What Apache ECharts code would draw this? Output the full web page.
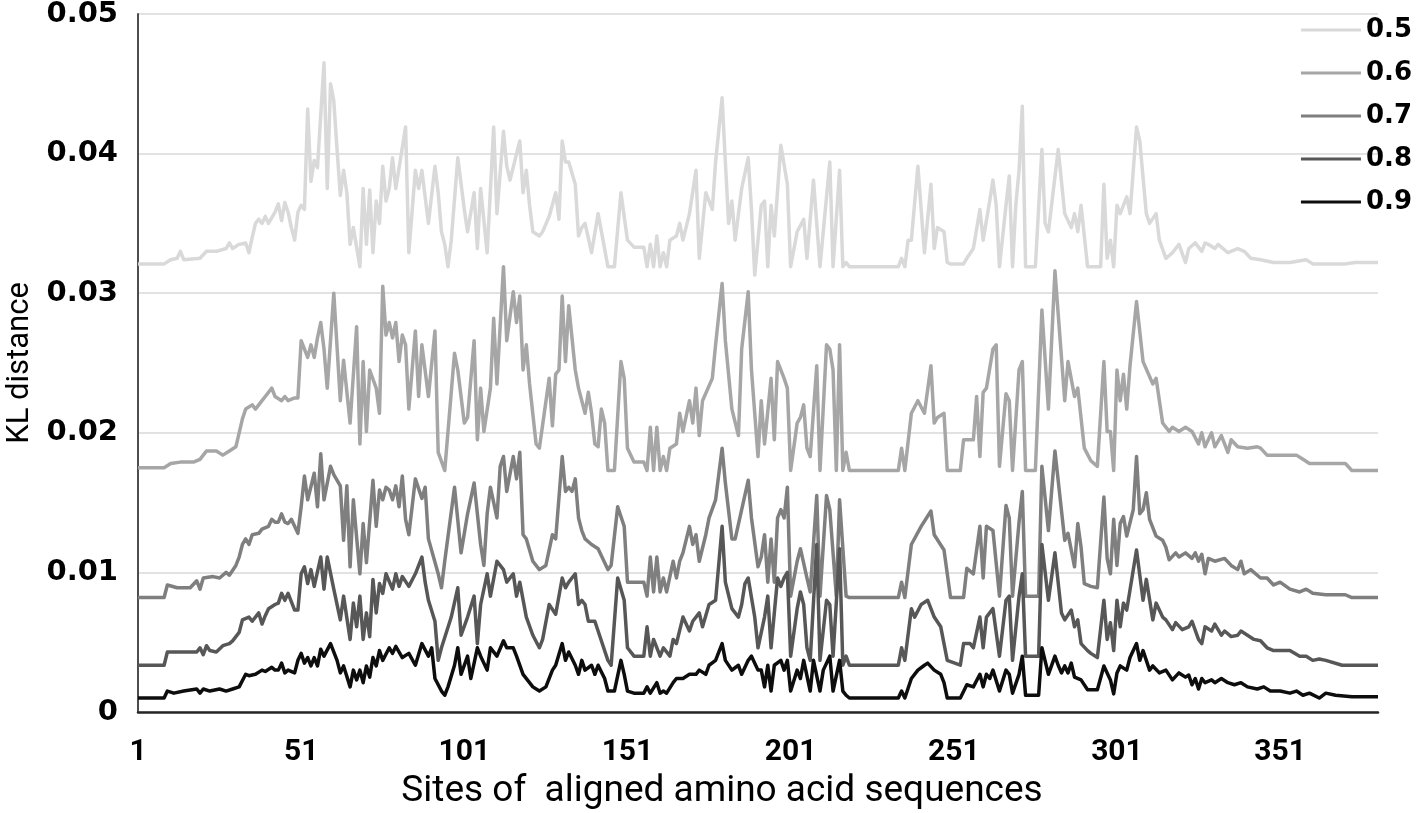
<!DOCTYPE html>
<html><head><meta charset="utf-8">
<script src="https://cdn.jsdelivr.net/npm/echarts@6/dist/echarts.min.js"></script>
<style>html,body{margin:0;padding:0;background:#fff}#c{width:1416px;height:813px}</style>
</head><body><div id="c"></div>
<script>
// [site, KL distance] vertices
const seriesNames = ['0.5', '0.6', '0.7', '0.8', '0.9'];
const s05 = [[1,.0321],[9,.0321],[11,.0324],[13,.0325],[14,.0330],[15,.0324],[20,.0325],[22,.0330],[25,.0330],[28,.0332],[29,.0336],[30,.0332],[32,.0335],[34,.0336],[35,.0329],[36,.0340],[37,.0350],[38,.0353],[39,.0350],[40,.0355],[41,.0350],[43,.0358],[44,.0364],[45,.0352],[46,.0365],[47,.0358],[48,.0347],[49,.0338],[50,.0358],[51,.0363],[52,.0360],[53,.0432],[54,.0380],[55,.0395],[56,.0390],[58,.0465],[59,.0375],[60,.0450],[61,.0438],[62,.0403],[63,.0370],[64,.0388],[65,.0372],[66,.0335],[67,.0347],[69,.0319],[70,.0375],[71,.0335],[72,.0374],[73,.0329],[74,.0366],[75,.0350],[76,.0391],[77,.0366],[78,.0375],[79,.0397],[80,.0375],[83,.0419],[84,.0329],[86,.0388],[87,.0375],[88,.0388],[90,.0350],[92,.0391],[93,.0372],[94,.0344],[95,.0335],[96,.0319],[97,.0338],[99,.0397],[101,.0360],[102,.0344],[104,.0372],[105,.0332],[106,.0375],[108,.0329],[110,.0419],[111,.0357],[113,.0416],[114,.0391],[115,.0381],[118,.0409],[119,.0372],[120,.0388],[121,.0363],[122,.0344],[124,.0341],[125,.0344],[127,.0355],[129,.0372],[130,.0353],[131,.0409],[132,.0394],[133,.0394],[135,.0378],[136,.0341],[137,.0347],[138,.0350],[140,.0329],[142,.0357],[145,.0319],[147,.0319],[149,.0372],[151,.0338],[153,.0333],[156,.0333],[157,.0319],[158,.0335],[159,.0319],[160,.0341],[161,.0319],[162,.0329],[163,.0319],[164,.0338],[166,.0341],[167,.0350],[168,.0338],[170,.0357],[172,.0388],[173,.0325],[175,.0372],[177,.0360],[178,.0394],[180,.0440],[181,.0394],[182,.0350],[183,.0366],[184,.0338],[186,.0375],[188,.0397],[189,.0360],[190,.0313],[192,.0363],[193,.0366],[194,.0319],[195,.0363],[196,.0341],[198,.0406],[200,.0378],[201,.0319],[203,.0344],[205,.0353],[206,.0325],[208,.0381],[210,.0319],[213,.0394],[214,.0319],[216,.0388],[217,.0319],[218,.0322],[219,.0319],[234,.0319],[235,.0325],[236,.0319],[237,.0338],[238,.0338],[240,.0391],[242,.0329],[244,.0378],[245,.0332],[246,.0347],[248,.0344],[249,.0322],[250,.0321],[254,.0321],[255,.0325],[257,.0332],[259,.0360],[260,.0338],[262,.0366],[263,.0381],[264,.0363],[265,.0319],[267,.0363],[268,.0384],[269,.0319],[270,.0363],[271,.0388],[272,.0434],[273,.0319],[276,.0319],[278,.0403],[279,.0350],[280,.0344],[283,.0403],[285,.0357],[287,.0347],[288,.0357],[289,.0344],[290,.0363],[292,.0319],[296,.0319],[297,.0378],[298,.0325],[299,.0338],[300,.0319],[301,.0363],[302,.0357],[304,.0369],[305,.0357],[307,.0419],[308,.0409],[310,.0357],[311,.0350],[313,.0357],[314,.0338],[316,.0325],[318,.0329],[320,.0335],[322,.0322],[323,.0332],[325,.0336],[327,.0330],[328,.0336],[329,.0335],[331,.0332],[332,.0335],[335,.0329],[338,.0332],[340,.0330],[342,.0325],[345,.0324],[349,.0322],[354,.0322],[359,.0324],[361,.0321],[371,.0321],[374,.0322],[381,.0322]];
const s06 = [[1,.0175],[9,.0175],[11,.0178],[14,.0179],[18,.0179],[20,.0181],[22,.0187],[25,.0187],[27,.0184],[29,.0187],[31,.0190],[32,.0200],[33,.0210],[34,.0217],[36,.0220],[37,.0217],[39,.0223],[40,.0226],[42,.0232],[43,.0226],[45,.0223],[46,.0226],[47,.0223],[49,.0225],[50,.0225],[51,.0266],[53,.0254],[54,.0263],[55,.0254],[56,.0268],[57,.0279],[58,.0260],[59,.0232],[61,.0300],[63,.0223],[64,.0252],[66,.0207],[68,.0276],[69,.0192],[70,.0251],[71,.0201],[72,.0245],[74,.0232],[75,.0214],[76,.0305],[77,.0270],[78,.0279],[79,.0268],[80,.0279],[81,.0251],[82,.0270],[83,.0263],[84,.0217],[86,.0273],[87,.0226],[88,.0263],[90,.0226],[92,.0273],[93,.0186],[95,.0173],[96,.0201],[98,.0257],[99,.0245],[101,.0207],[102,.0211],[104,.0266],[105,.0195],[106,.0232],[107,.0201],[109,.0232],[110,.0282],[111,.0235],[113,.0319],[114,.0266],[116,.0301],[117,.0279],[118,.0298],[119,.0245],[120,.0263],[121,.0235],[123,.0192],[124,.0189],[127,.0239],[128,.0205],[129,.0242],[130,.0245],[131,.0298],[132,.0251],[133,.0291],[135,.0245],[136,.0232],[137,.0223],[138,.0214],[139,.0229],[140,.0214],[141,.0192],[142,.0190],[143,.0217],[144,.0207],[145,.0173],[147,.0173],[149,.0251],[150,.0239],[151,.0189],[153,.0179],[156,.0179],[157,.0173],[158,.0204],[159,.0173],[160,.0204],[161,.0173],[162,.0183],[163,.0173],[164,.0189],[166,.0192],[167,.0214],[168,.0201],[170,.0223],[171,.0207],[172,.0232],[173,.0198],[174,.0223],[177,.0239],[178,.0263],[180,.0307],[181,.0266],[183,.0217],[185,.0198],[186,.0260],[188,.0301],[189,.0245],[191,.0183],[192,.0223],[193,.0192],[195,.0239],[196,.0195],[197,.0251],[198,.0245],[199,.0239],[200,.0232],[201,.0173],[203,.0207],[204,.0211],[205,.0220],[206,.0189],[207,.0183],[209,.0248],[210,.0173],[212,.0263],[213,.0260],[214,.0245],[215,.0173],[216,.0263],[217,.0173],[218,.0186],[219,.0173],[234,.0173],[235,.0189],[236,.0173],[238,.0214],[240,.0223],[242,.0214],[244,.0248],[245,.0207],[246,.0211],[248,.0214],[249,.0173],[253,.0173],[254,.0195],[257,.0195],[258,.0226],[259,.0183],[260,.0229],[261,.0232],[263,.0260],[264,.0263],[265,.0176],[267,.0228],[268,.0223],[269,.0173],[271,.0245],[272,.0251],[273,.0173],[276,.0173],[278,.0288],[280,.0217],[282,.0316],[285,.0223],[286,.0251],[288,.0226],[289,.0232],[291,.0189],[293,.0180],[295,.0176],[297,.0251],[298,.0201],[299,.0201],[300,.0173],[301,.0245],[302,.0223],[303,.0242],[304,.0217],[305,.0248],[307,.0294],[309,.0251],[312,.0235],[313,.0239],[315,.0207],[317,.0201],[318,.0204],[320,.0201],[322,.0204],[324,.0201],[326,.0192],[327,.0200],[328,.0190],[330,.0200],[331,.0190],[333,.0198],[335,.0186],[336,.0195],[338,.0190],[341,.0189],[344,.0190],[345,.0189],[347,.0184],[356,.0184],[358,.0181],[360,.0178],[371,.0178],[373,.0173],[381,.0173]];
const s07 = [[1,.0082],[9,.0082],[10,.0091],[13,.0089],[17,.0089],[19,.0094],[20,.0088],[21,.0096],[24,.0097],[26,.0096],[28,.0100],[29,.0098],[31,.0105],[32,.0111],[33,.0120],[34,.0124],[35,.0120],[36,.0127],[38,.0128],[39,.0131],[41,.0133],[42,.0138],[43,.0136],[44,.0136],[45,.0142],[46,.0136],[47,.0135],[48,.0138],[50,.0128],[51,.0147],[52,.0169],[53,.0152],[55,.0171],[56,.0147],[57,.0185],[58,.0152],[60,.0176],[61,.0170],[63,.0162],[64,.0123],[65,.0162],[66,.0104],[67,.0152],[68,.0125],[69,.0099],[70,.0135],[71,.0107],[73,.0166],[74,.0133],[75,.0159],[76,.0152],[77,.0161],[78,.0159],[79,.0152],[80,.0162],[81,.0147],[82,.0169],[83,.0138],[84,.0127],[86,.0167],[88,.0153],[89,.0161],[90,.0124],[93,.0099],[94,.0089],[95,.0108],[98,.0161],[100,.0114],[102,.0142],[104,.0164],[106,.0120],[107,.0105],[108,.0142],[109,.0161],[111,.0139],[112,.0176],[113,.0183],[114,.0158],[116,.0183],[117,.0167],[118,.0186],[119,.0127],[120,.0124],[122,.0108],[124,.0102],[126,.0105],[128,.0127],[129,.0124],[131,.0183],[132,.0158],[133,.0161],[134,.0158],[135,.0167],[136,.0139],[137,.0130],[138,.0124],[140,.0120],[142,.0117],[145,.0102],[146,.0105],[148,.0147],[150,.0133],[151,.0093],[156,.0093],[157,.0083],[158,.0111],[159,.0086],[160,.0111],[161,.0086],[162,.0096],[163,.0086],[165,.0108],[166,.0096],[167,.0108],[168,.0114],[170,.0133],[171,.0120],[172,.0127],[173,.0108],[175,.0127],[176,.0139],[178,.0152],[180,.0189],[181,.0164],[183,.0124],[184,.0124],[186,.0145],[188,.0166],[189,.0139],[191,.0104],[192,.0111],[193,.0127],[194,.0093],[195,.0124],[196,.0093],[197,.0139],[198,.0145],[199,.0139],[200,.0161],[201,.0083],[203,.0108],[204,.0117],[206,.0096],[207,.0086],[209,.0155],[210,.0083],[212,.0155],[213,.0145],[215,.0083],[216,.0152],[218,.0083],[219,.0082],[234,.0082],[235,.0093],[236,.0082],[238,.0120],[241,.0133],[244,.0144],[245,.0127],[248,.0116],[250,.0082],[254,.0082],[255,.0103],[257,.0099],[259,.0133],[260,.0096],[261,.0133],[263,.0130],[265,.0083],[267,.0148],[268,.0139],[269,.0083],[271,.0136],[272,.0158],[273,.0083],[277,.0083],[278,.0176],[280,.0130],[282,.0187],[285,.0123],[286,.0128],[287,.0116],[288,.0104],[289,.0135],[290,.0118],[291,.0092],[293,.0090],[295,.0089],[297,.0154],[298,.0110],[299,.0099],[300,.0138],[301,.0105],[302,.0135],[303,.0140],[304,.0126],[306,.0145],[307,.0183],[308,.0142],[309,.0145],[310,.0157],[311,.0138],[313,.0126],[315,.0123],[316,.0118],[317,.0109],[319,.0114],[320,.0111],[322,.0114],[324,.0110],[325,.0114],[326,.0108],[327,.0113],[328,.0099],[329,.0110],[331,.0108],[334,.0110],[336,.0105],[338,.0102],[339,.0108],[340,.0099],[342,.0102],[345,.0096],[347,.0096],[349,.0091],[351,.0093],[354,.0088],[357,.0086],[359,.0088],[361,.0085],[365,.0084],[371,.0084],[373,.0082],[381,.0082]];
const s08 = [[1,.00335],[9,.00335],[10,.0043],[19,.0043],[20,.0046],[21,.0041],[22,.00475],[23,.0044],[25,.0043],[27,.00475],[29,.0049],[30,.0051],[31,.0054],[32,.0057],[33,.0066],[35,.0068],[36,.0065],[38,.0071],[39,.0063],[40,.0069],[41,.0074],[43,.0077],[44,.0078],[45,.0085],[46,.0080],[47,.0085],[49,.0073],[50,.0073],[51,.0099],[52,.0104],[53,.0092],[54,.0102],[55,.0090],[57,.0111],[58,.0088],[59,.0111],[61,.0088],[63,.0066],[64,.0083],[66,.0052],[67,.0078],[68,.0061],[69,.0083],[70,.0052],[71,.0071],[72,.0054],[73,.0095],[74,.0071],[75,.0092],[76,.0085],[77,.0099],[79,.0088],[80,.0099],[81,.0090],[82,.0097],[84,.0090],[86,.0099],[88,.0111],[89,.0093],[90,.0080],[92,.0065],[93,.0037],[94,.0046],[97,.0068],[99,.0089],[100,.0055],[102,.0068],[104,.0083],[105,.0049],[106,.0077],[108,.0099],[109,.0083],[111,.0108],[113,.0102],[114,.0093],[116,.0099],[117,.0083],[118,.0093],[120,.0068],[122,.0055],[124,.0046],[125,.0052],[127,.0077],[129,.0070],[131,.0096],[132,.0089],[133,.0093],[135,.0099],[136,.0077],[137,.0080],[138,.0077],[139,.0065],[141,.0065],[142,.0058],[145,.0037],[146,.00335],[148,.0096],[150,.0080],[151,.0046],[153,.0040],[156,.0040],[157,.0061],[158,.0040],[159,.0052],[161,.0040],[162,.0046],[164,.0040],[165,.0052],[166,.0049],[168,.0068],[170,.0058],[171,.0065],[173,.0071],[174,.0061],[176,.0077],[178,.0080],[180,.0133],[181,.0093],[183,.0074],[185,.0068],[186,.0077],[187,.0092],[188,.0096],[190,.0068],[191,.0046],[193,.0068],[194,.0083],[195,.0046],[197,.0096],[198,.0090],[199,.0096],[200,.0100],[201,.0040],[203,.0074],[204,.0086],[205,.0077],[206,.0046],[207,.0037],[209,.0120],[210,.0037],[212,.0080],[213,.0077],[214,.0040],[216,.0117],[217,.00335],[218,.0040],[219,.00335],[234,.00335],[235,.0046],[236,.0037],[238,.0074],[239,.0068],[241,.0077],[243,.0080],[244,.0074],[245,.0068],[247,.0061],[249,.0037],[253,.00335],[254,.0049],[256,.0049],[257,.0046],[259,.0068],[260,.0046],[261,.0068],[262,.0071],[263,.0074],[265,.0040],[267,.0080],[268,.0083],[269,.0037],[271,.0083],[272,.0099],[273,.0040],[277,.0040],[278,.0120],[280,.0080],[282,.0114],[284,.0071],[285,.0066],[287,.0073],[288,.0061],[289,.0066],[290,.0049],[292,.0044],[293,.0042],[295,.0039],[297,.0080],[298,.0052],[299,.0064],[300,.0044],[301,.0080],[302,.0061],[303,.0078],[304,.0073],[307,.0116],[309,.0080],[310,.0095],[312,.0066],[313,.0078],[315,.0068],[316,.0066],[318,.0059],[319,.0064],[321,.0059],[323,.0061],[324,.0065],[326,.0052],[327,.0049],[328,.0061],[330,.0058],[331,.0063],[333,.0055],[334,.0058],[336,.0054],[338,.0055],[339,.0058],[341,.0055],[343,.0052],[345,.0051],[347,.0046],[349,.0044],[354,.0044],[357,.0040],[359,.0040],[361,.0037],[363,.0038],[365,.0037],[370,.00335],[381,.00335]];
const s09 = [[1,.0010],[9,.0010],[10,.0015],[12,.00135],[15,.0015],[19,.00165],[20,.00135],[21,.00165],[23,.0015],[26,.00165],[28,.0015],[30,.00165],[32,.0018],[34,.0027],[35,.0026],[37,.0027],[39,.0030],[40,.0029],[42,.0032],[43,.0030],[44,.0030],[45,.0035],[46,.0028],[47,.0030],[49,.0028],[50,.0037],[51,.0042],[52,.0035],[53,.0039],[54,.0033],[55,.0039],[56,.0033],[57,.0045],[58,.0040],[60,.0049],[62,.0037],[63,.0028],[64,.0033],[66,.0018],[67,.0030],[68,.0023],[69,.0030],[70,.0021],[71,.0033],[72,.0025],[73,.0039],[74,.0033],[75,.0044],[76,.0037],[78,.0046],[79,.0042],[80,.0047],[82,.0039],[84,.0042],[86,.00335],[88,.0049],[90,.0040],[91,.0046],[92,.0024],[94,.0015],[95,.0012],[96,.0018],[98,.00335],[99,.0046],[100,.0027],[102,.0040],[103,.0024],[105,.0046],[106,.0040],[108,.0030],[109,.0046],[111,.0040],[113,.0051],[114,.0046],[116,.0046],[117,.0040],[119,.0027],[122,.0018],[124,.0015],[126,.0018],[128,.0030],[129,.00335],[131,.0049],[132,.0037],[133,.0043],[135,.00335],[136,.0027],[137,.0037],[138,.0030],[140,.00335],[141,.0027],[142,.00335],[144,.0024],[145,.0015],[147,.0015],[149,.0037],[150,.0027],[151,.0015],[153,.00135],[156,.00135],[157,.0018],[158,.00135],[160,.0021],[161,.00135],[162,.0015],[163,.00135],[165,.0021],[166,.0024],[168,.0024],[170,.0027],[172,.0027],[173,.0030],[175,.0027],[176,.00335],[178,.0037],[180,.0049],[181,.0037],[183,.0030],[185,.00335],[186,.0027],[188,.0037],[189,.0040],[191,.0030],[192,.0030],[193,.0018],[194,.00335],[195,.0015],[196,.00335],[198,.0037],[199,.0030],[200,.0037],[201,.0015],[203,.0030],[204,.0024],[205,.0037],[207,.0015],[208,.0037],[210,.0015],[211,.0030],[213,.0040],[214,.0015],[216,.0037],[217,.0015],[218,.0012],[219,.0010],[234,.0010],[235,.0015],[236,.0010],[238,.0024],[240,.0030],[242,.00335],[243,.0035],[245,.0030],[247,.0027],[248,.0021],[249,.0010],[253,.0010],[255,.00195],[257,.0018],[259,.0027],[260,.0018],[261,.0027],[262,.0024],[263,.0030],[265,.0015],[267,.0030],[268,.0027],[269,.00135],[271,.0027],[272,.0040],[273,.0012],[277,.0012],[278,.0046],[280,.0027],[282,.0040],[283,.00335],[284,.0028],[285,.0033],[286,.0028],[287,.0035],[288,.0025],[290,.0023],[292,.0016],[295,.0016],[297,.0033],[298,.0028],[299,.0023],[300,.0013],[301,.0028],[302,.0033],[304,.0030],[305,.0039],[307,.0049],[308,.0037],[309,.0044],[311,.0030],[312,.0033],[314,.0028],[316,.0030],[318,.0023],[320,.0028],[322,.0025],[323,.00265],[324,.00195],[325,.0024],[326,.00165],[327,.0024],[328,.0021],[330,.0023],[331,.0021],[333,.0024],[335,.0021],[337,.00195],[339,.0021],[341,.0018],[344,.00165],[346,.0018],[348,.0015],[351,.0015],[354,.00135],[356,.0015],[358,.0012],[360,.00135],[363,.0010],[365,.00135],[368,.0012],[373,.0011],[381,.0011]];
const seriesData = [s05, s06, s07, s08, s09];
const lineColors = ['#d9d9d9', '#a6a6a6', '#7f7f7f', '#575757', '#0d0d0d'];

const chart = echarts.init(document.getElementById('c'), null, { renderer: 'canvas' });
const narrow = 'Roboto, "DejaVu Sans Condensed", sans-serif';
const wide = '"DejaVu Sans", Verdana, sans-serif';
chart.setOption({
  animation: false,
  backgroundColor: '#ffffff',
  grid: { left: 138, right: 38, top: 14, bottom: 101, containLabel: false, outerBoundsMode: 'none' },
  legend: {
    orient: 'vertical', right: 4, top: 17, padding: 0,
    icon: 'rect', itemWidth: 60, itemHeight: 3, itemGap: 17,
    textStyle: { fontFamily: wide, fontWeight: 'bold', fontSize: 26, color: '#000' },
    data: seriesNames
  },
  xAxis: {
    type: 'value', min: 1, max: 381, interval: 50,
    name: 'Sites of  aligned amino acid sequences',
    nameLocation: 'middle', nameGap: 61,
    nameTextStyle: { fontFamily: narrow, fontSize: 37, color: '#000', padding: [0, 72, 0, 0] },
    axisLine: { show: true, onZero: false, lineStyle: { color: '#262626', width: 2.5 } },
    axisTick: { show: false },
    splitLine: { show: false },
    axisLabel: { showMaxLabel: false, margin: 25, fontFamily: narrow, fontWeight: 'bold', fontSize: 30, color: '#000' }
  },
  yAxis: {
    type: 'value', min: 0, max: 0.05, interval: 0.01,
    name: 'KL distance', nameLocation: 'middle', nameGap: 102,
    nameTextStyle: { fontFamily: narrow, fontSize: 31, color: '#000' },
    axisLine: { show: true, lineStyle: { color: '#4d4d4d', width: 2 } },
    axisTick: { show: false },
    splitLine: { show: true, lineStyle: { color: '#d9d9d9', width: 1.5 } },
    axisLabel: {
      margin: 20, fontFamily: wide, fontWeight: 'bold', fontSize: 29, color: '#000',
      formatter: v => (v === 0 ? '0' : v.toFixed(2))
    }
  },
  series: seriesNames.map((name, i) => ({
    name, type: 'line', data: seriesData[i],
    symbol: 'none', showSymbol: false,
    lineStyle: { color: lineColors[i], width: 3.5, join: 'round' },
    itemStyle: { color: lineColors[i] },
    emphasis: { disabled: true }
  }))
});
</script></body></html>
